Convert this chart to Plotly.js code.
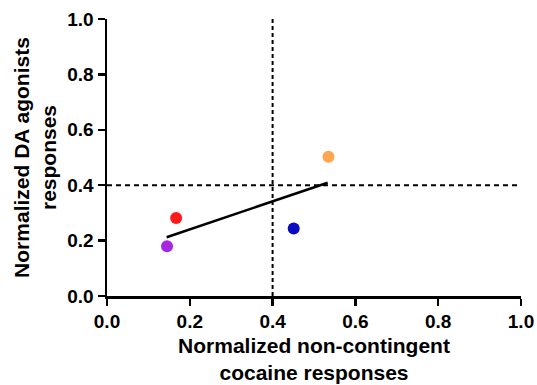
<!DOCTYPE html>
<html>
<head>
<meta charset="utf-8">
<script src="https://cdn.plot.ly/plotly-3.0.1.min.js"></script>
<style>html,body{margin:0;padding:0;background:#fff;}#chart{width:537px;height:385px;}</style>
</head>
<body>
<div id="chart"></div>
<script>
// Data
var pointX = [0.167, 0.145, 0.451, 0.535];
var pointY = [0.282, 0.180, 0.244, 0.503];
var pointColors = ['#ff1a1a', '#a726e0', '#0a0ac0', '#ffa44f'];

var fitX = [0.144, 0.533];
var fitY = [0.212, 0.409];

var thresholdX = 0.4;
var thresholdY = 0.4;

var tickVals = [0, 0.2, 0.4, 0.6, 0.8, 1.0];
var tickText = ['0.0', '0.2', '0.4', '0.6', '0.8', '1.0'];

var xTitle = ['Normalized non-contingent', 'cocaine responses'];
var yTitle = ['Normalized DA agonists', 'responses'];

function bold(s) { return '<b>' + s + '</b>'; }

var traces = [
  {x: [thresholdX, thresholdX], y: [0, 1], mode: 'lines', type: 'scatter',
   line: {color: '#000', width: 2, dash: '4px,3px'}, hoverinfo: 'skip', cliponaxis: false},
  {x: [0, 1.01], y: [thresholdY, thresholdY], mode: 'lines', type: 'scatter',
   line: {color: '#000', width: 2, dash: '5px,4px'}, hoverinfo: 'skip', cliponaxis: false},
  {x: fitX, y: fitY, mode: 'lines', type: 'scatter',
   line: {color: '#000', width: 2.5}},
  {x: pointX, y: pointY, mode: 'markers', type: 'scatter',
   marker: {color: pointColors, size: 12, line: {width: 0}}, cliponaxis: false}
];

var fontFam = 'Liberation Sans';
var tf = {family: fontFam, size: 19, color: '#000'};
var ttf = {family: fontFam, size: 21, color: '#000'};
var layout = {
  width: 537, height: 385,
  margin: {l: 107, r: 16, t: 19, b: 89},
  showlegend: false,
  paper_bgcolor: '#fff', plot_bgcolor: '#fff',
  font: {family: fontFam, color: '#000'},
  xaxis: {
    range: [0, 1], showgrid: false, zeroline: false,
    showline: true, linecolor: '#000', linewidth: 2.5,
    ticks: 'outside', ticklen: 7, tickwidth: 2.5, tickcolor: '#000',
    tickvals: tickVals, ticktext: tickText.map(bold),
    tickfont: tf,
    title: {text: xTitle.map(bold).join('<br>'), font: ttf, standoff: 7},
    fixedrange: true
  },
  yaxis: {
    range: [0, 1], showgrid: false, zeroline: false,
    showline: true, linecolor: '#000', linewidth: 2.5,
    ticks: 'outside', ticklen: 7, tickwidth: 2.5, tickcolor: '#000',
    tickvals: tickVals, ticktext: tickText.map(bold),
    tickfont: tf,
    title: {text: yTitle.map(bold).join('<br>'), font: ttf, standoff: 5},
    fixedrange: true
  }
};

Plotly.newPlot('chart', traces, layout, {displayModeBar: false, staticPlot: true});
</script>
</body>
</html>
